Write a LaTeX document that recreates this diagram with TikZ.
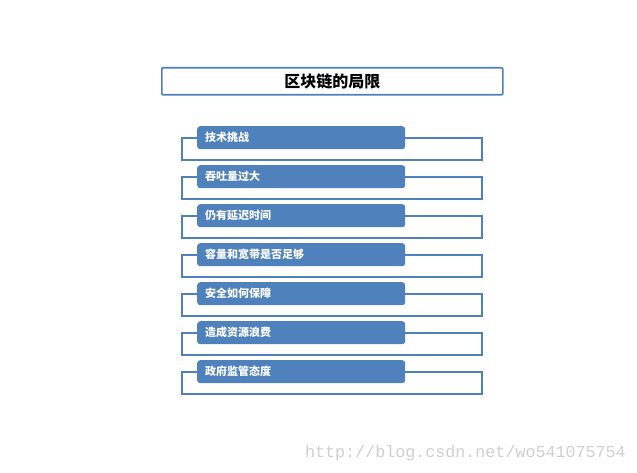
\documentclass[tikz,border=0pt]{standalone}
\usepackage{fontspec}
\newfontfamily\cjk{Noto Sans CJK SC}
\newfontfamily\wmfont{Liberation Mono}
\begin{document}
\begin{tikzpicture}[x=1pt,y=-1pt,
  framecol/.style={draw=boxblue, line width=1.6pt},
  itembox/.style={fill=boxblue, rounded corners=3pt, minimum width=208pt, minimum height=23pt, inner sep=0pt, anchor=north west,
     font=\cjk\bfseries\fontsize{11}{12}\selectfont, text=white, align=left, text width=192pt},
  titlebox/.style={draw=boxblue, line width=1.6pt, rounded corners=1pt, minimum width=341pt, minimum height=27pt, anchor=north west, inner sep=0pt,
     font=\cjk\bfseries\fontsize{16}{18}\selectfont, text=black}]
\definecolor{boxblue}{HTML}{4F81BD}
\definecolor{wmgray}{HTML}{D0D0D0}
\useasboundingbox[fill=white] (0,0) rectangle (637,473);
\node[titlebox] (title) at (161,67) {区块链的局限};
\foreach \i/\t in {0/技术挑战,1/吞吐量过大,2/仍有延迟时间,3/容量和宽带是否足够,4/安全如何保障,5/造成资源浪费,6/政府监管态度}{
  \coordinate (l\i) at (182,{138+39*\i});
  \coordinate (r\i) at (482,{138+39*\i});
  \coordinate (bl\i) at (182,{160+39*\i});
  \coordinate (br\i) at (482,{160+39*\i});
  \node[itembox] (b\i) at (197,{126+39*\i}) {\t};
  \draw[framecol] (b\i.west |- l\i) -- (l\i) -- (bl\i) -- (br\i) -- (r\i) -- (b\i.east |- r\i);
}
\node[text=wmgray, font=\wmfont\fontsize{16.7}{17}\selectfont, anchor=east, inner sep=0pt] (wm) at (626,453) {http://blog.csdn.net/wo541075754};
\end{tikzpicture}
\end{document}
